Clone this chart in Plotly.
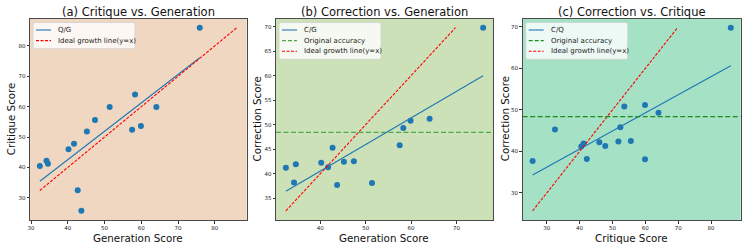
import numpy as np
import plotly.graph_objects as go

# ---------------- data ----------------
generation = [32.4, 34.2, 34.6, 40.2, 41.7, 42.7, 43.7, 45.2, 47.4, 51.4, 57.5, 58.3, 59.9, 64.1, 75.9]
critique   = [40.5, 42.2, 41.2, 46.0, 47.8, 32.5, 25.7, 51.8, 55.6, 59.9, 52.4, 64.0, 53.6, 59.9, 86.0]
correction = [41.2, 38.2, 41.9, 42.2, 41.3, 45.3, 37.7, 42.4, 42.5, 38.1, 45.8, 49.3, 50.8, 51.2, 69.8]
original_accuracy = 48.4

panel_titles = ["(a) Critique vs. Generation", "(b) Correction vs. Generation", "(c) Correction vs. Critique"]
x_titles = ["Generation Score", "Generation Score", "Critique Score"]
y_titles = ["Critique Score", "Correction Score", "Correction Score"]
fit_names = ["Q/G", "C/G", "C/Q"]
orig_name = "Original accuracy"
ideal_name = "Ideal growth line(y=x)"

panels = [(generation, critique), (generation, correction), (critique, correction)]
show_orig = [False, True, True]
bg_colors = ["#EFD7C1", "#CCE1B8", "#A5E1C5"]
orig_colors = [None, "#4CA84C", "#1E8C1E"]
ydticks = [10, 5, 10]

W, H = 747, 249
FONT = "DejaVu Sans"

def px(x):
    return x / W

def py(y):
    return 1 - y / H

# plot-area pixel boxes (left, right) and y-title centre offsets
boxes = [(30.0, 246.7), (276.0, 493.0), (522.7, 740.7)]
ytitle_x = [11.0, 257.3, 505.0]
top_px, bot_px = 18.5, 220.0

fig = go.Figure()
shapes = []
annotations = []

for i, (xs, ys) in enumerate(panels):
    xs = np.array(xs)
    ys = np.array(ys)
    n = "" if i == 0 else str(i + 1)
    xa, ya = "x" + n, "y" + n
    xaxis_key, yaxis_key = "xaxis" + n, "yaxis" + n

    fig.add_trace(go.Scatter(x=xs, y=ys, mode="markers", xaxis=xa, yaxis=ya,
                             marker=dict(color="#1f77b4", size=6), showlegend=False, cliponaxis=False))
    k, b = np.polyfit(xs, ys, 1)
    fx = np.array([xs.min(), xs.max()])
    fig.add_trace(go.Scatter(x=fx, y=k * fx + b, mode="lines", xaxis=xa, yaxis=ya,
                             line=dict(color="#1f77b4", width=1.1), showlegend=False))
    lo, hi = xs.min(), ys.max()
    fig.add_trace(go.Scatter(x=[lo, hi], y=[lo, hi], mode="lines", xaxis=xa, yaxis=ya,
                             line=dict(color="red", width=1.1, dash="3px,1.5px"), showlegend=False))

    xmin, xmax = lo, max(xs.max(), hi)
    ymin, ymax = min(ys.min(), lo), hi
    xp = 0.05 * (xmax - xmin)
    yp = 0.05 * (ymax - ymin)

    left, right = boxes[i]
    if show_orig[i]:
        fig.add_trace(go.Scatter(x=[xmin - xp, xmax + xp], y=[original_accuracy] * 2, mode="lines",
                                 xaxis=xa, yaxis=ya,
                                 line=dict(color=orig_colors[i], width=1.3, dash="5px,2.5px"),
                                 showlegend=False))

    axis_common = dict(showgrid=False, zeroline=False, showline=True, mirror=True, automargin=False,
                       linecolor="#4a4a4a", linewidth=1, ticks="outside", ticklen=2.5,
                       tickcolor="#333", tickwidth=0.8,
                       tickfont=dict(family=FONT, size=5.5, color="#222"))
    fig.layout[xaxis_key] = dict(axis_common, domain=[px(left), px(right)],
                                 range=[xmin - xp, xmax + xp], dtick=10, anchor=ya)
    fig.layout[yaxis_key] = dict(axis_common, domain=[py(bot_px), py(top_px)],
                                 range=[ymin - yp, ymax + yp], dtick=ydticks[i], anchor=xa)
    shapes.append(dict(type="rect", xref="paper", yref="paper", layer="below",
                       x0=px(left), x1=px(right), y0=py(bot_px), y1=py(top_px),
                       fillcolor=bg_colors[i], line=dict(width=0)))
    annotations.append(dict(text=panel_titles[i], xref="paper", yref="paper",
                            x=px((left + right) / 2), y=py(11.5), xanchor="center", yanchor="middle",
                            showarrow=False, font=dict(family=FONT, size=11.5, color="#111")))
    annotations.append(dict(text=x_titles[i], xref="paper", yref="paper",
                            x=px((left + right) / 2), y=py(237.5), xanchor="center", yanchor="middle",
                            showarrow=False, font=dict(family=FONT, size=10.3, color="#111")))
    annotations.append(dict(text=y_titles[i], xref="paper", yref="paper", textangle=-90,
                            x=px(ytitle_x[i]), y=py((top_px + bot_px) / 2), xanchor="center", yanchor="middle",
                            showarrow=False, font=dict(family=FONT, size=10.3, color="#111")))

    # manual legend
    entries = [(fit_names[i], dict(color="#1f77b4", width=1.1))]
    if show_orig[i]:
        entries.append((orig_name, dict(color=orig_colors[i], width=1.3, dash="4px,2px")))
    entries.append((ideal_name, dict(color="red", width=1.1, dash="3px,1.5px")))
    lx0 = left + 3
    lx1 = lx0 + 102
    ly0 = top_px + 4
    ly1 = ly0 + 5 + 10.6 * len(entries)
    r = 2.0
    path = (f"M {px(lx0 + r)},{py(ly0)} L {px(lx1 - r)},{py(ly0)} Q {px(lx1)},{py(ly0)} {px(lx1)},{py(ly0 + r)} "
            f"L {px(lx1)},{py(ly1 - r)} Q {px(lx1)},{py(ly1)} {px(lx1 - r)},{py(ly1)} "
            f"L {px(lx0 + r)},{py(ly1)} Q {px(lx0)},{py(ly1)} {px(lx0)},{py(ly1 - r)} "
            f"L {px(lx0)},{py(ly0 + r)} Q {px(lx0)},{py(ly0)} {px(lx0 + r)},{py(ly0)} Z")
    shapes.append(dict(type="path", path=path, xref="paper", yref="paper", layer="above",
                       fillcolor="rgba(255,255,255,0.8)", line=dict(color="#d0d0d0", width=0.8)))
    for j, (label, lstyle) in enumerate(entries):
        yy = ly0 + 7.5 + 10.6 * j
        shapes.append(dict(type="line", xref="paper", yref="paper", layer="above",
                           x0=px(lx0 + 3), x1=px(lx0 + 18), y0=py(yy), y1=py(yy), line=lstyle))
        annotations.append(dict(text=label, xref="paper", yref="paper", x=px(lx0 + 23), y=py(yy),
                                xanchor="left", yanchor="middle", showarrow=False,
                                font=dict(family=FONT, size=7, color="#222")))

fig.update_layout(width=W, height=H, margin=dict(l=0, r=0, t=0, b=0),
                  paper_bgcolor="white", plot_bgcolor="rgba(0,0,0,0)",
                  shapes=shapes, annotations=annotations, showlegend=False,
                  font=dict(family=FONT))

fig.write_html("out.html", config={"displayModeBar": False},
               post_script="document.body.style.margin='0';document.body.style.padding='0';"
                           "document.documentElement.style.overflow='hidden';")
